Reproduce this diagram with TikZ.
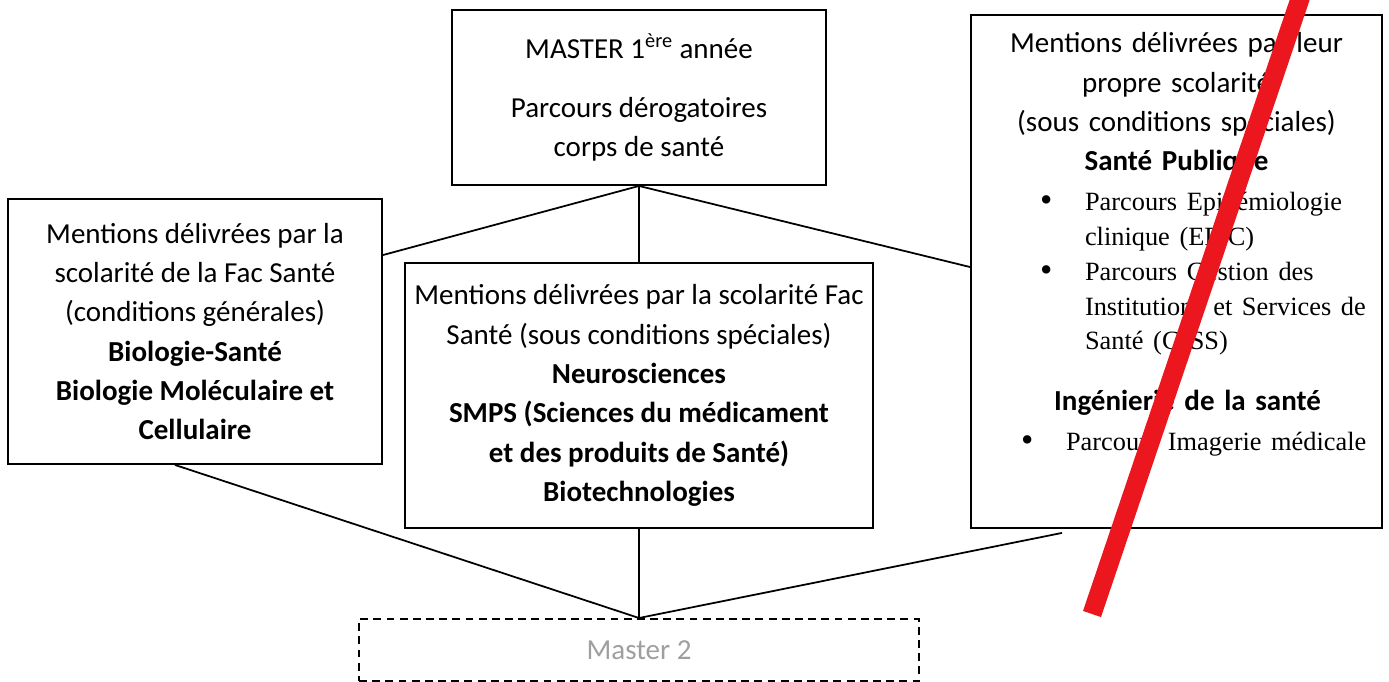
\documentclass[tikz,border=0pt]{standalone}
\usepackage{fontspec}
\setmainfont{Carlito}
\newfontfamily\tnr{Liberation Serif}
\definecolor{trait}{RGB}{236,22,30}
\newcommand{\puce}[2]{{\tnr\fontsize{15}{19.8}\selectfont\raggedright
	\hangindent=\dimexpr#1+0.9cm\relax\hangafter=1
	\leavevmode\hspace*{#1}\makebox[0.9cm][l]{\raisebox{-0.6pt}{\fontsize{20}{20}\selectfont\textbullet}}#2\par}}

\begin{document}
\begin{tikzpicture}
		[x=0.02cm, y=-0.02cm,
		box/.style={draw, line width=1.1pt, align=center, inner sep=0pt,
			font=\fontsize{16.5}{22.4}\selectfont},
		link/.style={line width=1pt},
		]
		\useasboundingbox (0,0) rectangle (1389,682);
		\node[box, minimum width=7.48cm, minimum height=3.5cm] (m1) at (639,97.5)
			{MASTER 1\textsuperscript{ère} année\\[11pt]
			Parcours dérogatoires\\ corps de santé};
		\node[box, minimum width=7.48cm, minimum height=5.3cm] (gen) at (195,331.5)
			{Mentions délivrées par la\\ scolarité de la Fac Santé\\
			(conditions générales)\\ \textbf{Biologie-Santé}\\
			\textbf{Biologie Moléculaire et}\\ \textbf{Cellulaire}};
		\node[box, minimum width=9.36cm, minimum height=5.3cm] (spec) at (639,395.5)
			{Mentions délivrées par la scolarité Fac\\
			Santé (sous conditions spéciales)\\ \textbf{Neurosciences}\\
			\textbf{SMPS (Sciences du médicament}\\
			\textbf{et des produits de Santé)}\\ \textbf{Biotechnologies}};
		\node[box, align=left, text width=8.22cm, minimum height=10.26cm] (propre) at (1176.5,271.5)
			{{\centering Mentions délivrées par leur\\ propre scolarité\\
			(sous conditions spéciales)\\ \textbf{Santé Publique}\par}
			\vspace{2.9pt}
			\puce{1.38cm}{Parcours Epidémiologie\newline clinique (EPIC)}
			\puce{1.38cm}{Parcours Gestion des\newline Institutions et Services de\newline Santé (GISS)}
			\vspace{11.9pt}
			{\centering\hspace*{0.44cm}\textbf{Ingénierie de la santé}\par}
			\vspace{2.9pt}
			\puce{1.0cm}{Parcours Imagerie médicale}
			\rule{0pt}{30pt}};
		\node[box, dash pattern=on 4.5pt off 3pt, text=gray!75, minimum width=11.2cm,
			minimum height=1.24cm, anchor=north] (m2) at (639,618) {Master 2};
		\coordinate (bout) at ([xshift=1.84cm,yshift=-0.08cm]propre.south west);
		\draw[link] (m1.south) -- ([yshift=-1.14cm]gen.north east);
		\draw[link] (m1.south) -- (spec.north);
		\draw[link] (m1.south) -- ([yshift=-5.06cm]propre.north west);
		\draw[link] ([xshift=-0.4cm]gen.south) -- (m2.north);
		\draw[link] (spec.south) -- (m2.north);
		\draw[link] (bout) -- (m2.north);
		\draw[line width=0.38cm, trait] (1303,-10) -- (1092,614);
\end{tikzpicture}
\end{document}
